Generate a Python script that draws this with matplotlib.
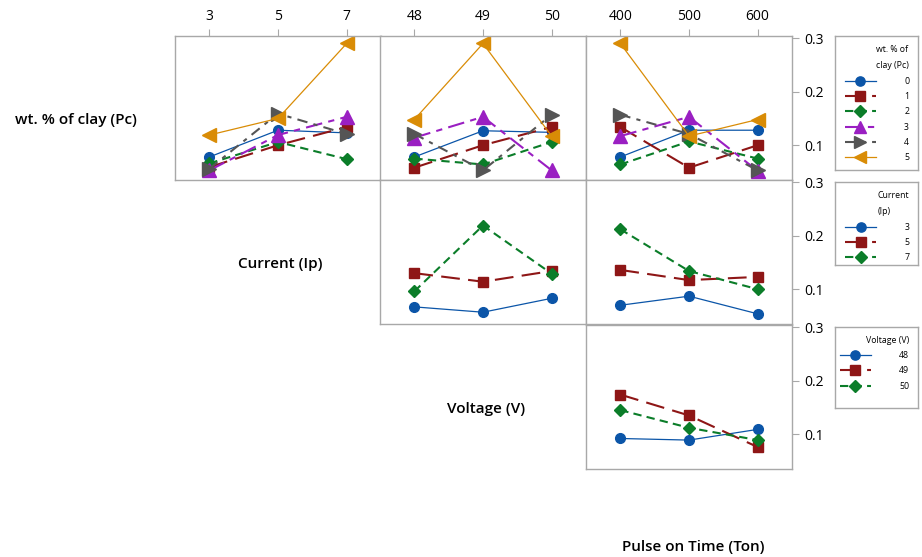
import matplotlib
matplotlib.use("Agg")
import matplotlib.pyplot as plt
import numpy as np

plt.rcParams['font.family'] = ['Open Sans', 'DejaVu Sans']

# ---- data ----
ip_levels = [3, 5, 7]
v_levels = [48, 49, 50]
ton_levels = [400, 500, 600]
pc_levels = ['0', '1', '2', '3', '4', '5']

# wt.% of clay (Pc) vs Current
pc_ip = [
    [0.078, 0.128, 0.123],
    [0.059, 0.100, 0.134],
    [0.066, 0.106, 0.074],
    [0.053, 0.119, 0.153],
    [0.056, 0.159, 0.121],
    [0.119, 0.150, 0.290],
]
# Pc vs Voltage
pc_v = [
    [0.078, 0.127, 0.124],
    [0.058, 0.100, 0.134],
    [0.075, 0.064, 0.106],
    [0.114, 0.153, 0.053],
    [0.121, 0.053, 0.157],
    [0.148, 0.290, 0.117],
]
# Pc vs Pulse on time
pc_ton = [
    [0.078, 0.128, 0.128],
    [0.134, 0.058, 0.100],
    [0.064, 0.107, 0.075],
    [0.117, 0.153, 0.052],
    [0.157, 0.121, 0.053],
    [0.290, 0.117, 0.148],
]
# Current vs Voltage
ip_v = [
    [0.067, 0.057, 0.083],
    [0.130, 0.114, 0.134],
    [0.096, 0.219, 0.129],
]
# Current vs Pulse on time
ip_ton = [
    [0.070, 0.087, 0.054],
    [0.136, 0.117, 0.123],
    [0.212, 0.134, 0.100],
]
# Voltage vs Pulse on time
v_ton = [
    [0.092, 0.089, 0.109],
    [0.174, 0.135, 0.076],
    [0.145, 0.112, 0.089],
]

# ---- styles ----
colors = ['#0b55a8', '#8e1616', '#0b7d29', '#9a1fc2', '#555555', '#d98c06']
markers = ['o', 's', 'D', '^', '>', '<']
msizes = [7, 7, 6.5, 9.5, 9.5, 9.5]
lstyles = ['-', (0, (9, 4)), (0, (4, 2.5)), (0, (8, 3, 3, 3)), (0, (5, 3, 2, 3)), '-']
lwidths = [0.9, 1.5, 1.5, 1.5, 1.5, 0.9]
frame_col = '#a8a8a8'

W, H = 922, 557
fig = plt.figure(figsize=(W / 100, H / 100), dpi=100)

col_left = [175, 380, 586]
col_w = 206
row_top = [36, 180, 325]
row_h = 144


def make_ax(r, c):
    l = col_left[c] / W
    b = 1 - (row_top[r] + row_h) / H
    ax = fig.add_axes([l, b, col_w / W, row_h / H])
    ax.set_xlim(-0.5, 2.5)
    ax.set_ylim(0.035, 0.304)
    for s in ax.spines.values():
        s.set_color(frame_col)
        s.set_linewidth(1.0)
    ax.tick_params(left=False, labelleft=False, bottom=False, labelbottom=False)
    return ax


def draw(ax, series, xlevels):
    lines = []
    x = np.arange(len(xlevels))
    for i, ys in enumerate(series):
        ln, = ax.plot(x, ys, color=colors[i], marker=markers[i], ms=msizes[i],
                      ls=lstyles[i], lw=lwidths[i], clip_on=False)
        lines.append(ln)
    return lines


def top_ticks(ax, xlevels):
    ax.set_xticks(np.arange(len(xlevels)))
    ax.set_xticklabels([str(v) for v in xlevels])
    ax.tick_params(axis='x', top=True, labeltop=True, bottom=False, labelbottom=False,
                   direction='out', length=5, color=frame_col, labelsize=10, pad=4)


def right_ticks(ax):
    ax.set_yticks([0.1, 0.2, 0.3])
    ax.set_yticklabels(['0.1', '0.2', '0.3'])
    ax.yaxis.tick_right()
    ax.tick_params(axis='y', right=True, labelright=True, left=False, labelleft=False,
                   direction='out', length=5, color=frame_col, labelsize=10, pad=4)


# Row 1
ax11 = make_ax(0, 0)
pc_lines = draw(ax11, pc_ip, ip_levels)
top_ticks(ax11, ip_levels)
ax12 = make_ax(0, 1)
draw(ax12, pc_v, v_levels)
top_ticks(ax12, v_levels)
ax13 = make_ax(0, 2)
draw(ax13, pc_ton, ton_levels)
top_ticks(ax13, ton_levels)
right_ticks(ax13)

# Row 2
ax22 = make_ax(1, 1)
ip_lines = draw(ax22, ip_v, v_levels)
ax23 = make_ax(1, 2)
draw(ax23, ip_ton, ton_levels)
right_ticks(ax23)

# Row 3
ax33 = make_ax(2, 2)
v_lines = draw(ax33, v_ton, ton_levels)
right_ticks(ax33)

# Row / column labels
lab_kw = dict(fontsize=11, fontweight='semibold', ha='center', va='center')
fig.text(76 / W, 1 - 120 / H, 'wt. % of clay (Pc)', **lab_kw)
fig.text(280 / W, 1 - 264 / H, 'Current (Ip)', **lab_kw)
fig.text(486 / W, 1 - 409 / H, 'Voltage (V)', **lab_kw)
fig.text(693 / W, 1 - 547 / H, 'Pulse on Time (Ton)', **lab_kw)


def add_legend(lines, labels, title, top_px, height_px):
    bx = fig.add_axes([835 / W, 1 - (top_px + height_px) / H, 83 / W, height_px / H])
    bx.set_xticks([]); bx.set_yticks([])
    for s in bx.spines.values():
        s.set_color(frame_col)
        s.set_linewidth(1.0)
    bx.patch.set_alpha(0)
    leg = bx.legend(lines, labels, title=title, loc='upper right', frameon=False,
                    fontsize=6.3, title_fontsize=6.3, handlelength=3.6,
                    handletextpad=3.2, labelspacing=0.72, borderaxespad=0.6,
                    alignment='right', markerscale=0.95)
    leg.get_title().set_linespacing(2.1)
    return leg


add_legend(pc_lines, pc_levels, 'wt. % of\nclay (Pc)', 36, 134)
add_legend(ip_lines, [str(v) for v in ip_levels], 'Current\n(Ip)', 182, 83)
add_legend(v_lines, [str(v) for v in v_levels], 'Voltage (V)', 327, 81)

fig.savefig('out.png', dpi=100)
